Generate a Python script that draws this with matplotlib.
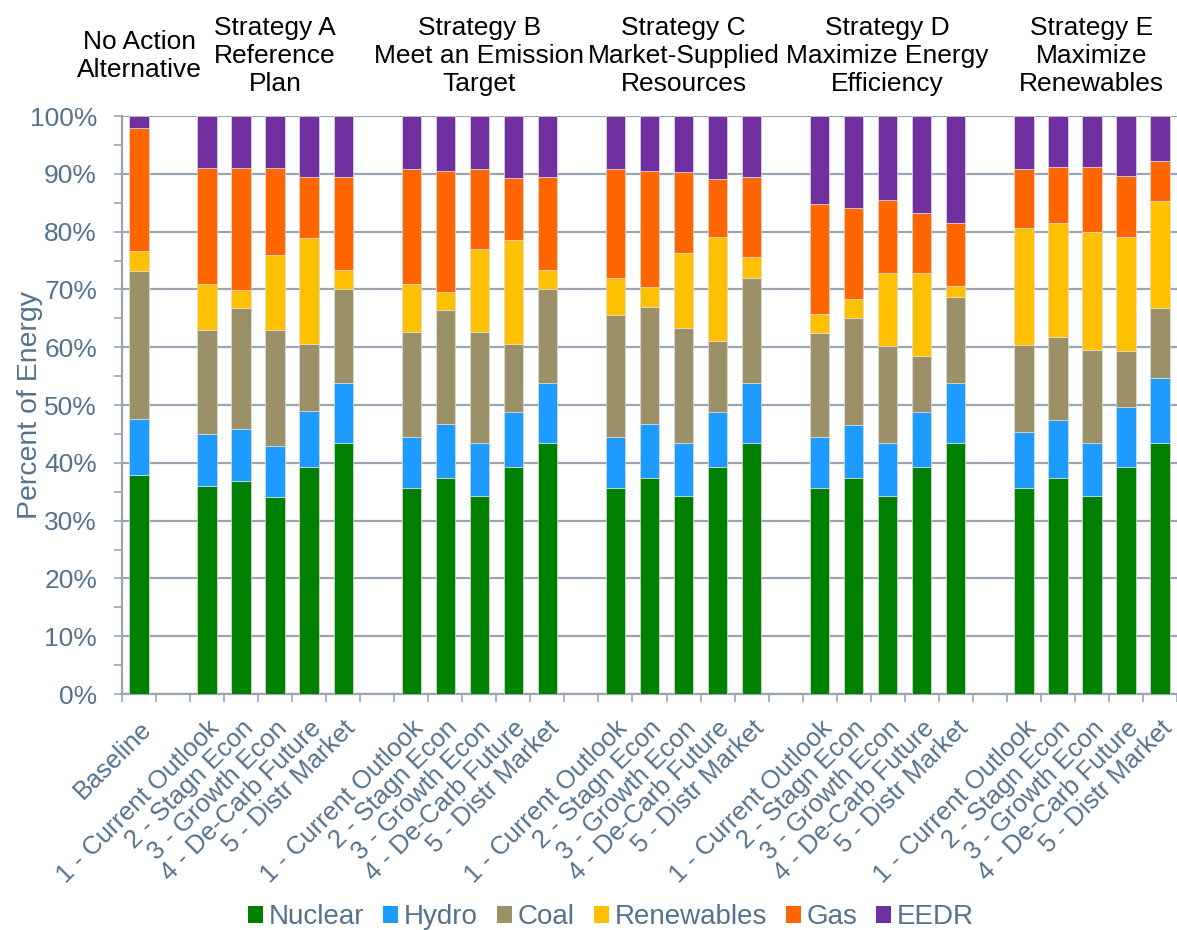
import numpy as np
import matplotlib
matplotlib.use("Agg")
import matplotlib.pyplot as plt
from matplotlib.patches import Patch

plt.rcParams["font.family"] = ["Liberation Sans", "DejaVu Sans"]

scenarios = ["1 - Current Outlook", "2 - Stagn Econ", "3 - Growth Econ",
             "4 - De-Carb Future", "5 - Distr Market"]
categories = ["Baseline"] + scenarios * 5
group_titles = ["No Action\nAlternative", "Strategy A\nReference\nPlan",
                "Strategy B\nMeet an Emission\nTarget",
                "Strategy C\nMarket-Supplied\nResources",
                "Strategy D\nMaximize Energy\nEfficiency",
                "Strategy E\nMaximize\nRenewables"]

# percent of energy, order: Baseline, A1..A5, B1..B5, C1..C5, D1..D5, E1..E5
nuclear = [37.9,
           35.9, 36.9, 34.0, 39.2, 43.4,
           35.7, 37.4, 34.3, 39.2, 43.4,
           35.7, 37.4, 34.3, 39.2, 43.4,
           35.7, 37.4, 34.3, 39.2, 43.4,
           35.7, 37.4, 34.3, 39.2, 43.4]
hydro = [9.6,
         9.0, 8.9, 8.9, 9.7, 10.4,
         8.8, 9.3, 9.2, 9.6, 10.4,
         8.8, 9.3, 9.2, 9.6, 10.4,
         8.8, 9.2, 9.2, 9.6, 10.4,
         9.6, 10.0, 9.2, 10.4, 11.2]
coal = [25.7,
        18.0, 21.0, 20.0, 11.6, 16.3,
        18.2, 19.8, 19.2, 11.8, 16.3,
        21.1, 20.2, 19.9, 12.3, 18.2,
        18.0, 18.5, 16.7, 9.7, 14.9,
        15.0, 14.4, 16.1, 9.7, 12.1]
renewables = [3.4,
              8.0, 3.1, 13.1, 18.4, 3.3,
              8.2, 3.0, 14.3, 17.9, 3.3,
              6.4, 3.5, 12.9, 18.0, 3.6,
              3.3, 3.2, 12.6, 14.3, 1.9,
              20.3, 19.7, 20.3, 19.8, 18.6]
gas = [21.3,
       20.1, 21.1, 15.0, 10.5, 16.0,
       19.9, 21.0, 13.8, 10.8, 16.0,
       18.8, 20.1, 14.0, 10.0, 13.8,
       19.0, 15.7, 12.6, 10.5, 10.9,
       10.2, 9.6, 11.2, 10.5, 6.9]
eedr = [2.1,
        9.0, 9.0, 9.0, 10.6, 10.6,
        9.2, 9.5, 9.2, 10.7, 10.6,
        9.2, 9.5, 9.7, 10.9, 10.6,
        15.2, 16.0, 14.6, 16.7, 18.5,
        9.2, 8.9, 8.9, 10.4, 7.8]

series = [("Nuclear", nuclear, "#008000"),
          ("Hydro", hydro, "#1E9BFF"),
          ("Coal", coal, "#9C9068"),
          ("Renewables", renewables, "#FFC000"),
          ("Gas", gas, "#FF6600"),
          ("EEDR", eedr, "#7030A0")]

text_col = "#56728B"
grid_col = "#9AA5B1"

# baseline in slot 0, then groups of 5 separated by one empty slot
pos = np.array([0] + [g * 6 + 2 + k for g in range(5) for k in range(5)])
group_centers = [0] + [g * 6 + 4 for g in range(5)]

fig = plt.figure(figsize=(11.77, 9.30), dpi=100)
ax = fig.add_axes([122 / 1177, 1 - 694 / 930, 1055 / 1177, 578 / 930])

bottom = np.zeros(len(pos))
for name, vals, col in series:
    vals = np.array(vals)
    ax.bar(pos, vals, width=0.57, bottom=bottom, color=col,
           edgecolor="#dddddd", linewidth=0.5, label=name, zorder=3)
    bottom += vals

ax.set_xlim(-0.5, 30.5)
ax.set_ylim(0, 100)
ax.set_yticks(np.arange(0, 101, 10))
ax.set_yticklabels([f"{v}%" for v in range(0, 101, 10)])
ax.set_yticks(np.arange(5, 100, 10), minor=True)
ax.yaxis.grid(True, color=grid_col, linewidth=1.6, zorder=0)
ax.tick_params(axis="y", which="both", length=6, width=1.2, color=grid_col,
               labelsize=19, labelcolor=text_col, pad=12)

ax.set_xticks(pos)
ax.set_xticklabels(categories, rotation=45, ha="right", rotation_mode="anchor")
ax.set_xticks(np.arange(-0.5, 31, 1), minor=True)
ax.tick_params(axis="x", which="major", length=0, labelsize=18.5,
               labelcolor=text_col, pad=16)
ax.tick_params(axis="x", which="minor", length=6, width=1.2, color=grid_col)

for s in ["top", "right"]:
    ax.spines[s].set_visible(False)
for s in ["left", "bottom"]:
    ax.spines[s].set_color(grid_col)
    ax.spines[s].set_linewidth(1.6)

ax.set_ylabel("Percent of Energy", fontsize=20.5, color=text_col)
ax.yaxis.set_label_coords((43 - 122) / 1055, 0.5)

for xc, title in zip(group_centers, group_titles):
    xf = (122 + (xc + 0.5) * 1055 / 31) / 1177
    fig.text(xf, 1 - 56 / 930, title, ha="center", va="center",
             fontsize=19, color="black", linespacing=1.22)

handles = [Patch(facecolor=c, label=n) for n, _, c in series]
fig.legend(handles=handles, loc="lower center", bbox_to_anchor=(611 / 1177, -0.027),
           ncol=6, frameon=False, fontsize=20, labelcolor=text_col,
           handlelength=0.55, handleheight=0.55, handletextpad=0.2,
           columnspacing=0.68)

fig.savefig("out.png", dpi=100)
